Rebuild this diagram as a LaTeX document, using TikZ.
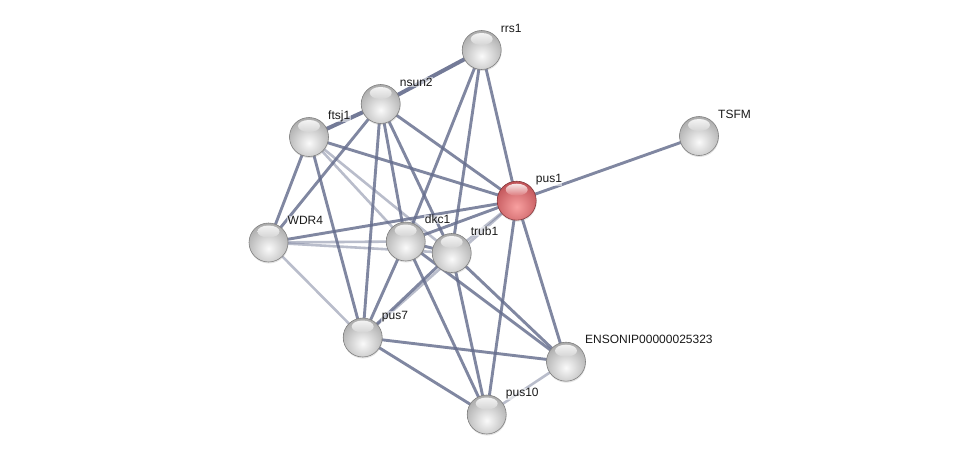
\documentclass[tikz,border=0pt]{standalone}
\usepackage{fontspec}
\setmainfont{Liberation Sans}
\usetikzlibrary{shadows}
\definecolor{edgec}{RGB}{100,108,140}
\definecolor{greyin}{RGB}{250,250,250}
\definecolor{greyout}{RGB}{168,168,168}
\definecolor{redin}{RGB}{248,160,160}
\definecolor{redout}{RGB}{190,80,85}
\definecolor{lblc}{RGB}{25,25,25}
\begin{document}
\begin{tikzpicture}[x=1pt,y=-1pt,
  lnk/.style={draw=edgec, line width=2.9pt, opacity=0.82},
  thick lnk/.style={draw=edgec, line width=4pt, opacity=0.9},
  light lnk/.style={draw=edgec, line width=2.6pt, opacity=0.45},
  ball/.style 2 args={circle, minimum size=39pt, inner sep=0pt, draw=black!50, line width=0.6pt,
    drop shadow={shadow xshift=0.4pt, shadow yshift=-1.5pt, opacity=0.22},
    path picture={
      \shade[inner color=#1, outer color=#2] ([yshift=-6pt]path picture bounding box.center) circle (26pt);
      \shade[top color=white, bottom color=#1!55!#2, opacity=0.85] ([yshift=11pt]path picture bounding box.center) ellipse (11pt and 6pt);
    }},
  gball/.style={ball={greyin}{greyout}},
  rball/.style={ball={redin}{redout}, draw=redout!70!black},
  lbl/.style={anchor=base west, font=\fontsize{12pt}{14pt}\selectfont, text=lblc, inner sep=0.5pt, fill=white, fill opacity=0.55, text opacity=1}
]
\useasboundingbox (0,0) rectangle (976,460);
% node positions
\coordinate (p-rrs1) at (481.7,50);
\coordinate (p-nsun2) at (380.7,104);
\coordinate (p-ftsj1) at (309,137);
\coordinate (p-TSFM) at (699,136);
\coordinate (p-pus1) at (516.7,200.7);
\coordinate (p-WDR4) at (268.5,242.5);
\coordinate (p-dkc1) at (405.7,241.5);
\coordinate (p-trub1) at (451.7,253);
\coordinate (p-pus7) at (362.7,337.5);
\coordinate (p-ENS) at (566,361.7);
\coordinate (p-pus10) at (486.7,414.5);
% edges
\draw[thick lnk] (p-rrs1) -- (p-nsun2);
\draw[lnk] (p-rrs1) -- (p-dkc1);
\draw[lnk] (p-rrs1) -- (p-trub1);
\draw[lnk] (p-rrs1) -- (p-pus1);
\draw[thick lnk] (p-nsun2) -- (p-ftsj1);
\draw[lnk] (p-nsun2) -- (p-WDR4);
\draw[lnk] (p-nsun2) -- (p-pus7);
\draw[lnk] (p-nsun2) -- (p-dkc1);
\draw[lnk] (p-nsun2) -- (p-trub1);
\draw[lnk] (p-nsun2) -- (p-pus1);
\draw[lnk] (p-ftsj1) -- (p-WDR4);
\draw[lnk] (p-ftsj1) -- (p-pus7);
\draw[lnk] (p-ftsj1) -- (p-pus1);
\draw[light lnk] (p-ftsj1) -- (p-dkc1);
\draw[light lnk] (p-ftsj1) -- (p-trub1);
\draw[lnk] (p-WDR4) -- (p-pus1);
\draw[light lnk] (p-WDR4) -- (p-dkc1);
\draw[light lnk] (p-WDR4) -- (p-trub1);
\draw[light lnk] (p-WDR4) -- (p-pus7);
\draw[lnk] (p-dkc1) -- (p-pus1);
\draw[lnk] (p-dkc1) -- (p-trub1);
\draw[lnk] (p-dkc1) -- (p-pus7);
\draw[lnk] (p-dkc1) -- (p-pus10);
\draw[lnk] (p-dkc1) -- (p-ENS);
\draw[light lnk] (p-trub1) -- (p-pus1);
\draw[lnk] (p-trub1) -- (p-pus7);
\draw[lnk] (p-trub1) -- (p-pus10);
\draw[lnk] (p-trub1) -- (p-ENS);
\draw[light lnk] (p-pus1) -- (p-pus7);
\draw[lnk] (p-pus1) -- (p-TSFM);
\draw[lnk] (p-pus1) -- (p-pus10);
\draw[lnk] (p-pus1) -- (p-ENS);
\draw[lnk] (p-pus7) -- (p-ENS);
\draw[lnk] (p-pus7) -- (p-pus10);
\draw[light lnk] (p-ENS) -- (p-pus10);
% nodes
\node[gball] (rrs1) at (p-rrs1) {};
\node[gball] (nsun2) at (p-nsun2) {};
\node[gball] (ftsj1) at (p-ftsj1) {};
\node[gball] (TSFM) at (p-TSFM) {};
\node[gball] (WDR4) at (p-WDR4) {};
\node[gball] (dkc1) at (p-dkc1) {};
\node[gball] (trub1) at (p-trub1) {};
\node[rball] (pus1) at (p-pus1) {};
\node[gball] (pus7) at (p-pus7) {};
\node[gball] (ENS) at (p-ENS) {};
\node[gball] (pus10) at (p-pus10) {};
% labels
\node[lbl] (l-rrs1) at ([xshift=18.5pt,yshift=17.8pt]rrs1.center) {rrs1};
\node[lbl] (l-nsun2) at ([xshift=18.5pt,yshift=17.8pt]nsun2.center) {nsun2};
\node[lbl] (l-ftsj1) at ([xshift=18.5pt,yshift=17.8pt]ftsj1.center) {ftsj1};
\node[lbl] (l-TSFM) at ([xshift=18.5pt,yshift=17.8pt]TSFM.center) {TSFM};
\node[lbl] (l-pus1) at ([xshift=18.5pt,yshift=17.8pt]pus1.center) {pus1};
\node[lbl] (l-WDR4) at ([xshift=18.5pt,yshift=17.8pt]WDR4.center) {WDR4};
\node[lbl] (l-dkc1) at ([xshift=18.5pt,yshift=17.8pt]dkc1.center) {dkc1};
\node[lbl] (l-trub1) at ([xshift=18.5pt,yshift=17.8pt]trub1.center) {trub1};
\node[lbl] (l-pus7) at ([xshift=18.5pt,yshift=17.8pt]pus7.center) {pus7};
\node[lbl] (l-ENS) at ([xshift=18.5pt,yshift=17.8pt]ENS.center) {ENSONIP00000025323};
\node[lbl] (l-pus10) at ([xshift=18.5pt,yshift=17.8pt]pus10.center) {pus10};
\end{tikzpicture}
\end{document}
